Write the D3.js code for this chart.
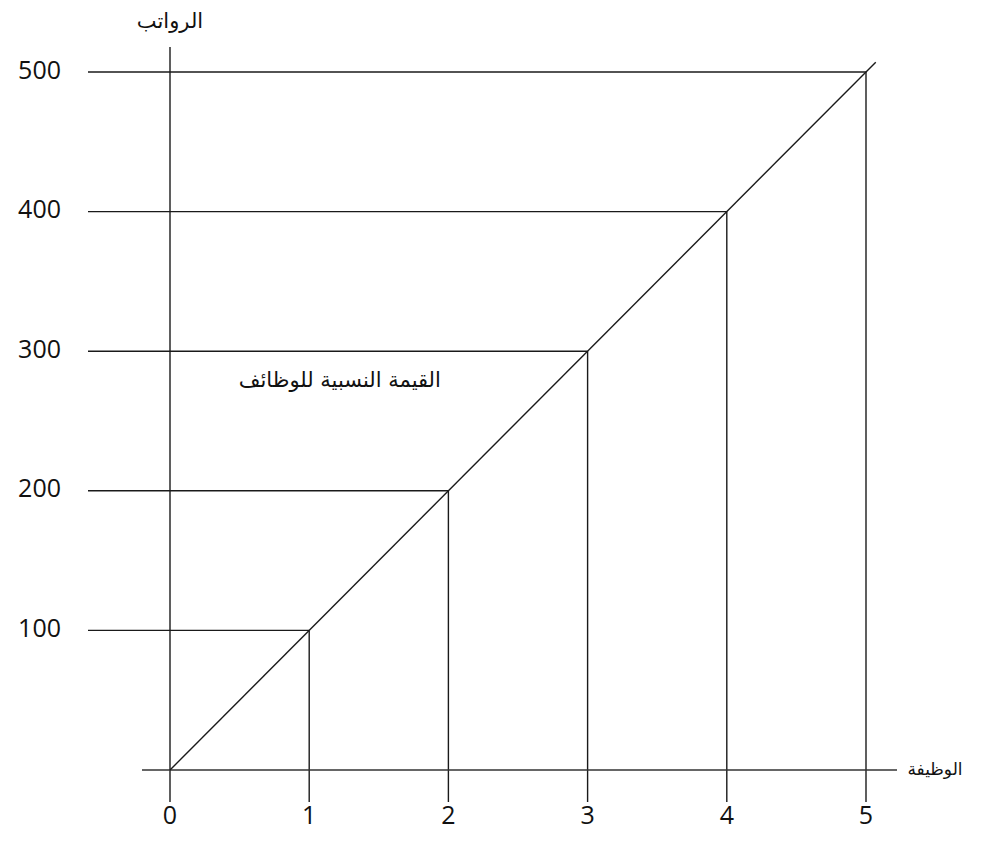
<!DOCTYPE html>
<html>
<head>
<meta charset="utf-8">
<script src="https://cdn.jsdelivr.net/npm/d3@7"></script>
<style>
  body { margin: 0; background: #fff; }
  svg text { fill: #111; }
  .num { font-family: "Open Sans", "Liberation Sans", sans-serif; font-size: 25px; }
  .ar { font-family: "DejaVu Sans", sans-serif; font-size: 21px; }
  .ar.small { font-size: 17px; }
</style>
</head>
<body>
<div id="chart"></div>
<script>
// Job grade (x) against salary (y)
const jobs = [0, 1, 2, 3, 4, 5];
const salaries = [0, 100, 200, 300, 400, 500];
const xTickLabels = ["0", "1", "2", "3", "4", "5"];
const yTickLabels = ["100", "200", "300", "400", "500"];
const yTickValues = [100, 200, 300, 400, 500];

const xTitle = "الوظيفة";
const yTitle = "الرواتب";
const note = "القيمة النسبية للوظائف";

const width = 1002, height = 855;

const svg = d3.select("#chart")
    .append("svg")
    .attr("width", width)
    .attr("height", height);

const x = d3.scaleLinear().domain([0, 5]).range([170, 866]);
const y = d3.scaleLinear().domain([0, 500]).range([770, 72]);

const points = jobs.map((j, i) => ({job: j, salary: salaries[i]}));
const lineColor = "#1a1a1a";

// horizontal guides from the left margin to each point
svg.selectAll(".hguide")
    .data(points.filter(d => d.salary > 0))
    .enter()
    .append("line")
    .attr("x1", x(0) - 82)
    .attr("x2", d => x(d.job))
    .attr("y1", d => y(d.salary))
    .attr("y2", d => y(d.salary))
    .attr("stroke", lineColor)
    .attr("stroke-width", 1.4);

// vertical guides from each point down past the x axis
svg.selectAll(".vguide")
    .data(points.filter(d => d.job > 0))
    .enter()
    .append("line")
    .attr("x1", d => x(d.job))
    .attr("x2", d => x(d.job))
    .attr("y1", d => y(d.salary))
    .attr("y2", y(0) + 32)
    .attr("stroke", lineColor)
    .attr("stroke-width", 1.4);

// axes
svg.append("line")
    .attr("x1", x(0)).attr("x2", x(0))
    .attr("y1", y(500) - 25).attr("y2", y(0) + 32)
    .attr("stroke", lineColor).attr("stroke-width", 1.4);

svg.append("line")
    .attr("x1", x(0) - 28).attr("x2", x(5) + 31)
    .attr("y1", y(0)).attr("y2", y(0))
    .attr("stroke", "#333").attr("stroke-width", 1.7);

// diagonal line through the points, running a little past the last one
const line = d3.line()
    .x(d => x(d.job))
    .y(d => y(d.salary));

svg.append("path")
    .datum([points[0], {job: 5.07, salary: 507}])
    .attr("d", line)
    .attr("fill", "none")
    .attr("stroke", lineColor)
    .attr("stroke-width", 1.4);

// tick labels
svg.selectAll(".xlab")
    .data(jobs)
    .enter()
    .append("text")
    .attr("class", "num")
    .attr("x", d => x(d))
    .attr("y", y(0) + 47)
    .attr("text-anchor", "middle")
    .attr("dominant-baseline", "middle")
    .text((d, i) => xTickLabels[i]);

svg.selectAll(".ylab")
    .data(yTickValues)
    .enter()
    .append("text")
    .attr("class", "num")
    .attr("x", x(0) - 109)
    .attr("y", d => y(d))
    .attr("text-anchor", "end")
    .attr("dominant-baseline", "middle")
    .text((d, i) => yTickLabels[i]);

// titles
svg.append("text")
    .attr("class", "ar")
    .attr("x", x(0))
    .attr("y", y(500) - 50)
    .attr("text-anchor", "middle")
    .attr("dominant-baseline", "middle")
    .attr("direction", "rtl")
    .text(yTitle);

svg.append("text")
    .attr("class", "ar small")
    .attr("x", x(5) + 69)
    .attr("y", y(0))
    .attr("text-anchor", "middle")
    .attr("dominant-baseline", "middle")
    .attr("direction", "rtl")
    .text(xTitle);

svg.append("text")
    .attr("class", "ar")
    .attr("x", x(1.22))
    .attr("y", y(300) + 30)
    .attr("text-anchor", "middle")
    .attr("dominant-baseline", "middle")
    .attr("direction", "rtl")
    .text(note);
</script>
</body>
</html>
